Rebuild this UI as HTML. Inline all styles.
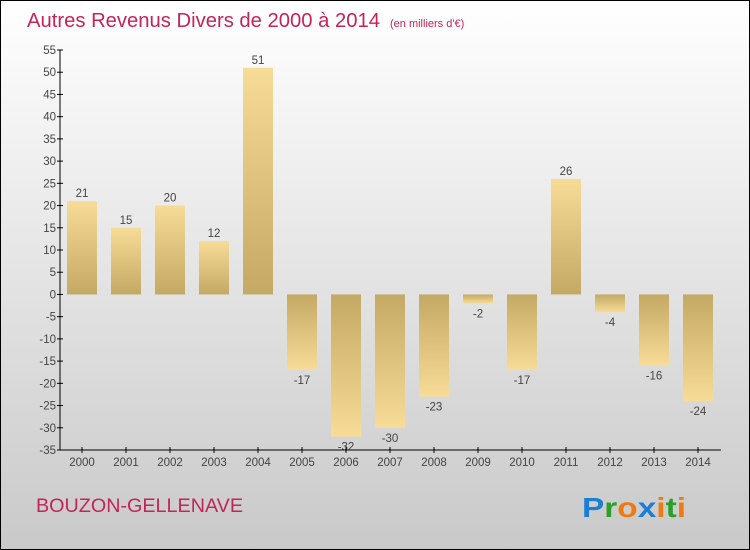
<!DOCTYPE html>
<html><head><meta charset="utf-8"><style>
body{margin:0;}
#wrap{width:750px;height:550px;position:relative;box-sizing:border-box;border:1px solid #000;background:linear-gradient(#ffffff,#c9c9c9);font-family:"Liberation Sans",sans-serif;overflow:hidden}
</style></head><body>
<div id="wrap">
<svg id="chart" width="750" height="550" style="position:absolute;left:-1px;top:-1px">
<defs>
<linearGradient id="gp" x1="0" y1="0" x2="0" y2="1"><stop offset="0" stop-color="#f6dc96"/><stop offset="1" stop-color="#c4a964"/></linearGradient>
<linearGradient id="gn" x1="0" y1="1" x2="0" y2="0"><stop offset="0" stop-color="#f6dc96"/><stop offset="1" stop-color="#c4a964"/></linearGradient>
</defs>
<text x="27" y="27" font-size="20" fill="#c2255a"><tspan textLength="353" lengthAdjust="spacingAndGlyphs">Autres Revenus Divers de 2000 à 2014</tspan><tspan font-size="11" dx="10">(en milliers d'€)</tspan></text>
<g id="bars"></g>
<g id="axes"></g>
<text x="36" y="512" font-size="19" fill="#c2255a" textLength="207" lengthAdjust="spacingAndGlyphs">BOUZON-GELLENAVE</text>
<text x="582" y="517" font-size="28" font-weight="bold" textLength="104" lengthAdjust="spacingAndGlyphs"><tspan fill="#1a7fd4">P</tspan><tspan fill="#2aa02a">r</tspan><tspan fill="#f07a10">o</tspan><tspan fill="#1a7fd4">x</tspan><tspan fill="#f07a10">i</tspan><tspan fill="#2aa02a">t</tspan><tspan fill="#f07a10">i</tspan></text>
</svg>
</div>
<script>
const categories=["2000","2001","2002","2003","2004","2005","2006","2007","2008","2009","2010","2011","2012","2013","2014"];
const values=[21,15,20,12,51,-17,-32,-30,-23,-2,-17,26,-4,-16,-24];
const yTicks=[55,50,45,40,35,30,25,20,15,10,5,0,-5,-10,-15,-20,-25,-30,-35];
const NS="http://www.w3.org/2000/svg";
const x0=60,x1=720,yTop=50,yBot=450,vMax=55,vMin=-35;
const slot=(x1-x0)/categories.length;
const y=v=>yTop+(vMax-v)*(yBot-yTop)/(vMax-vMin);
const xc=i=>x0+slot*(i+0.5);
function mk(tag,attrs,parent){const e=document.createElementNS(NS,tag);for(const k in attrs)e.setAttribute(k,attrs[k]);parent.appendChild(e);return e;}
const bars=document.getElementById('bars'),axes=document.getElementById('axes');
values.forEach((v,i)=>{
  const top=Math.min(y(v),y(0)),h=Math.abs(y(v)-y(0));
  const r=mk('rect',{x:xc(i)-15,y:top,width:30,height:Math.max(h,0.5),fill:v>=0?'url(#gp)':'url(#gn)'},bars);
  
  
  const t=mk('text',{x:xc(i),y:v>=0?y(v)-4:y(v)+14,'font-size':11.5,fill:'#444','text-anchor':'middle'},bars);
  t.textContent=v;
  
  
});
const ya=mk('line',{x1:x0,y1:yTop,x2:x0,y2:yBot,stroke:'#000','stroke-width':1},axes);


const xa=mk('line',{x1:x0,y1:yBot,x2:x1+1,y2:yBot,stroke:'#000','stroke-width':1},axes);


yTicks.forEach(v=>{
  mk('line',{x1:x0-3,y1:y(v),x2:x0+3,y2:y(v),stroke:'#000'},axes);
  const t=mk('text',{x:x0-4,y:y(v)+4,'font-size':11.5,fill:'#444','text-anchor':'end'},axes);
  t.textContent=v;
  
  
});
categories.forEach((c,i)=>{
  mk('line',{x1:xc(i),y1:yBot-3,x2:xc(i),y2:yBot+3,stroke:'#000'},axes);
  const t=mk('text',{x:xc(i),y:yBot+16,'font-size':11.5,fill:'#444','text-anchor':'middle'},axes);
  t.textContent=c;
  
  
});
</script>
</body></html>
